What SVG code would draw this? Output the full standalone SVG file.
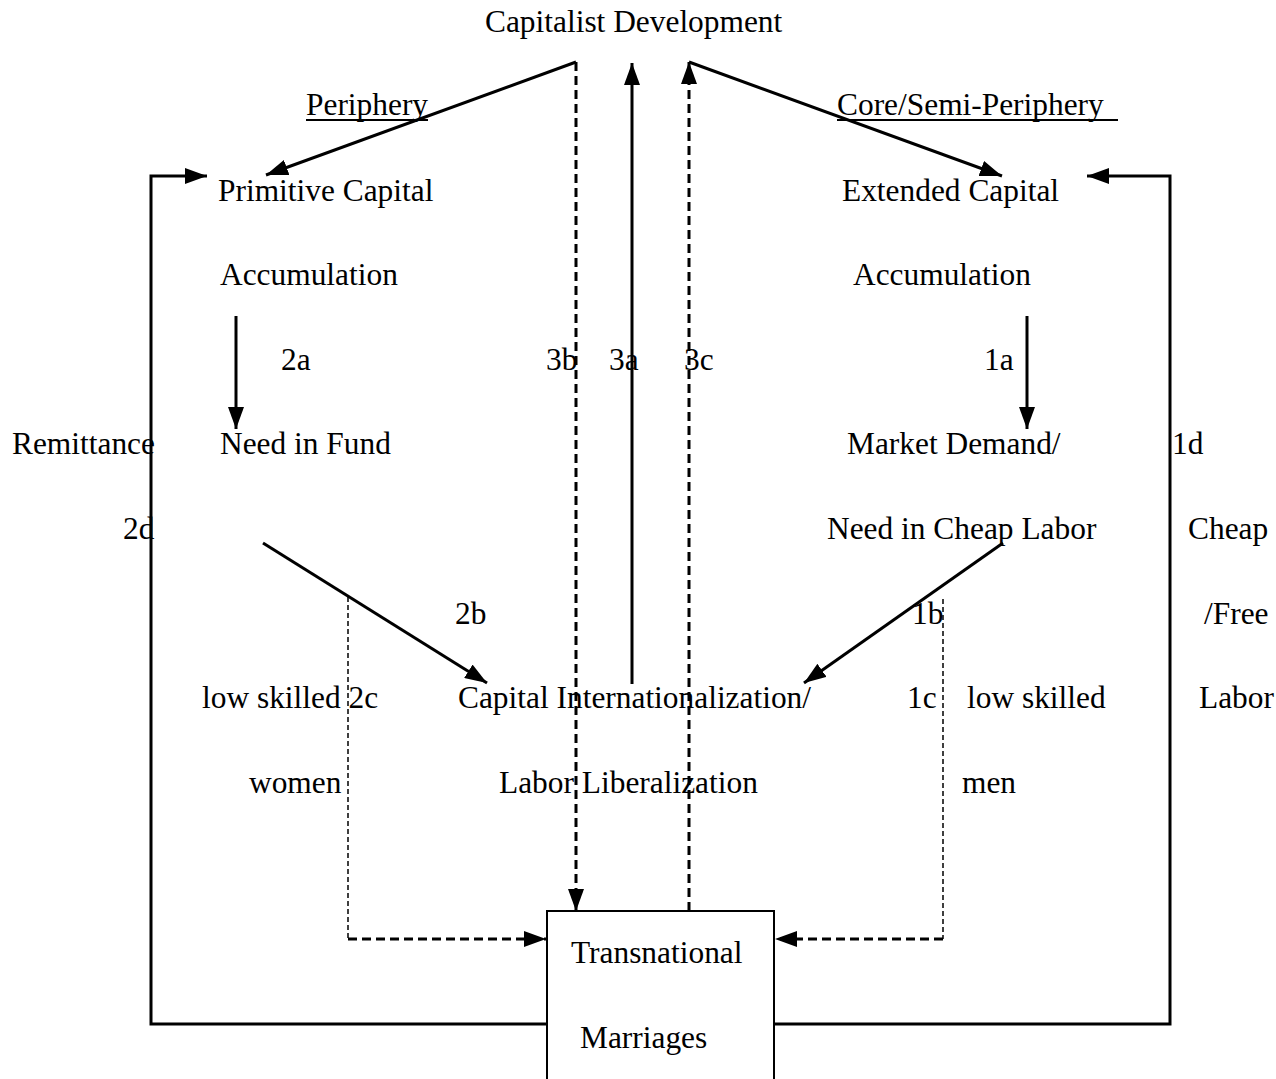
<svg xmlns="http://www.w3.org/2000/svg" width="1276" height="1079" viewBox="0 0 1276 1079">
<style>
text{font-family:"Liberation Serif","Times New Roman",serif;font-size:31.4px;fill:#000}
.s{fill:none;stroke:#000;stroke-width:3}
.d{fill:none;stroke:#000;stroke-width:3;stroke-dasharray:9,5}
.t{fill:none;stroke:#000;stroke-width:1.5;stroke-dasharray:5,3}
.u{stroke:#000;stroke-width:2}
</style>
<defs>
<marker id="ah" viewBox="0 0 22 16" refX="22" refY="8" markerWidth="22" markerHeight="16" markerUnits="userSpaceOnUse" orient="auto">
<path d="M0,0 L22,8 L0,16 Z" fill="#000"/>
</marker>
</defs>
<rect width="1276" height="1079" fill="#fff"/>

<g id="connectors">
<line class="s" x1="576" y1="62" x2="266" y2="175" marker-end="url(#ah)"/>
<line class="d" x1="576" y1="62" x2="576" y2="911" marker-end="url(#ah)"/>
<line class="s" x1="632" y1="684" x2="632" y2="63" marker-end="url(#ah)"/>
<line class="d" x1="689" y1="911" x2="689" y2="62" marker-end="url(#ah)"/>
<line class="s" x1="689" y1="62" x2="1002" y2="176" marker-end="url(#ah)"/>
<line class="s" x1="236" y1="316" x2="236" y2="429" marker-end="url(#ah)"/>
<line class="s" x1="1027" y1="316" x2="1027" y2="429" marker-end="url(#ah)"/>
<line class="s" x1="263" y1="543" x2="487" y2="683" marker-end="url(#ah)"/>
<line class="s" x1="1003" y1="543" x2="804" y2="683" marker-end="url(#ah)"/>
<line class="t" x1="348" y1="597" x2="348" y2="939"/>
<line class="d" x1="348" y1="939" x2="546" y2="939" marker-end="url(#ah)"/>
<line class="t" x1="943" y1="599" x2="943" y2="939"/>
<line class="d" x1="943" y1="939" x2="775" y2="939" marker-end="url(#ah)"/>
<polyline class="s" points="547,1024 151,1024 151,176 207,176" marker-end="url(#ah)"/>
<polyline class="s" points="774,1024 1170,1024 1170,176 1087,176" marker-end="url(#ah)"/>
</g>

<g id="capitalist-development"><text x="485" y="32">Capitalist Development</text></g>
<g id="periphery"><text x="306" y="115">Periphery</text><line class="u" x1="306" y1="120" x2="428" y2="120"/></g>
<g id="core-semi-periphery"><text x="837" y="115">Core/Semi-Periphery</text><line class="u" x1="837" y1="120" x2="1118" y2="120"/></g>
<g id="primitive-capital"><text x="218" y="201">Primitive Capital</text><text x="220" y="285">Accumulation</text></g>
<g id="extended-capital"><text x="842" y="201">Extended Capital</text><text x="853" y="285">Accumulation</text></g>
<g id="need-in-fund"><text x="220" y="454">Need in Fund</text></g>
<g id="market-demand"><text x="847" y="454">Market Demand/</text><text x="827" y="539">Need in Cheap Labor</text></g>
<g id="capital-internationalization"><text x="458" y="708">Capital Internationalization/</text><text x="499" y="793">Labor Liberalization</text></g>
<g id="transnational-marriages">
<rect x="547" y="911" width="227" height="185" fill="none" stroke="#000" stroke-width="2"/>
<text x="571" y="963">Transnational</text>
<text x="580" y="1048">Marriages</text>
</g>
<g id="labels">
<text x="281" y="370">2a</text>
<text x="546" y="370">3b</text>
<text x="609" y="370">3a</text>
<text x="684" y="370">3c</text>
<text x="984" y="370">1a</text>
<text x="12" y="454">Remittance</text>
<text x="1172" y="454">1d</text>
<text x="123" y="539">2d</text>
<text x="1188" y="539">Cheap</text>
<text x="455" y="624">2b</text>
<text x="912" y="624">1b</text>
<text x="1204" y="624">/Free</text>
<text x="202" y="708">low skilled 2c</text>
<text x="907" y="708">1c</text>
<text x="967" y="708">low skilled</text>
<text x="1199" y="708">Labor</text>
<text x="249" y="793">women</text>
<text x="962" y="793">men</text>
</g>
</svg>
